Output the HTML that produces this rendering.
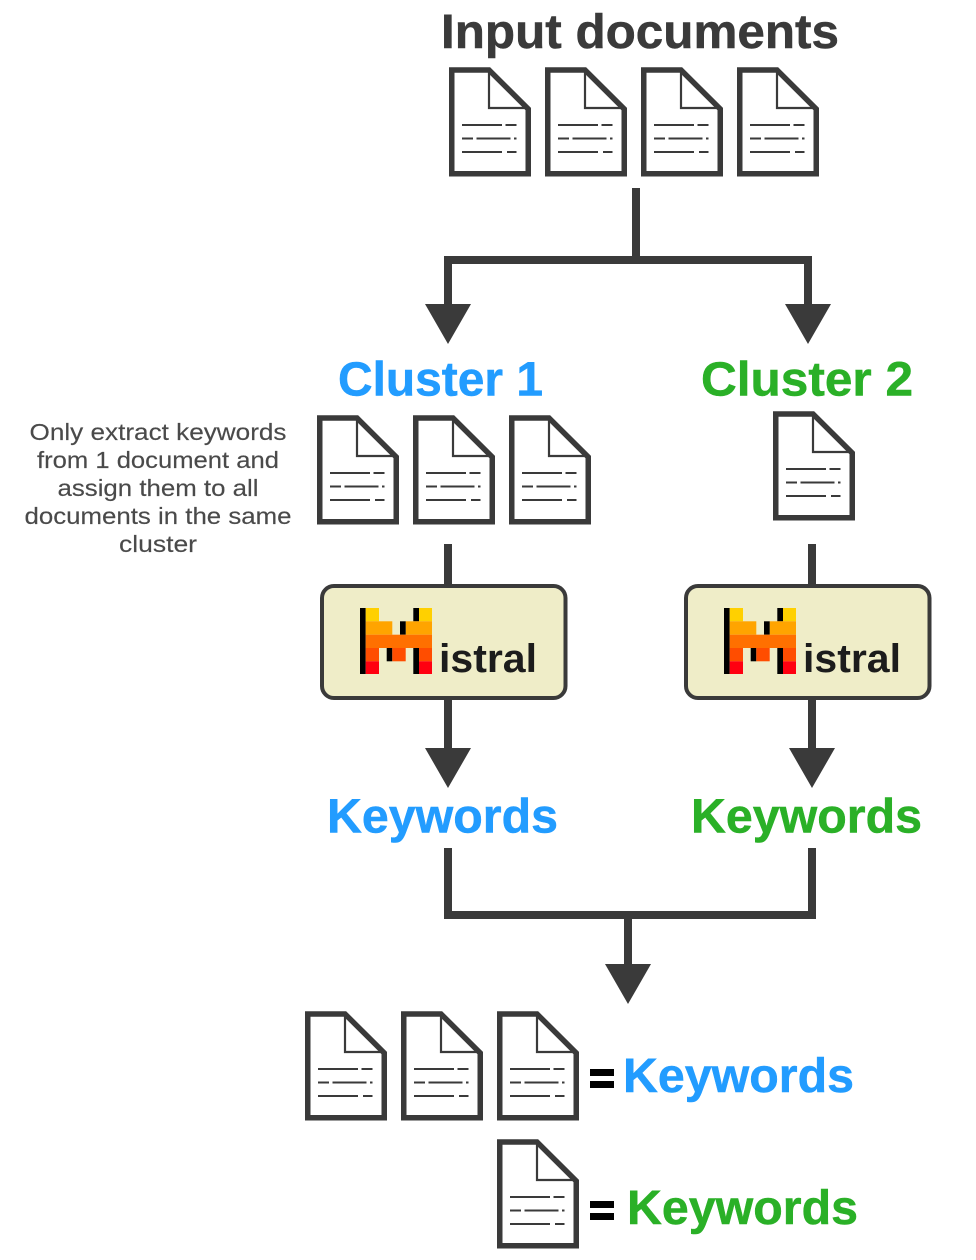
<!DOCTYPE html>
<html>
<head>
<meta charset="utf-8">
<style>
html,body{margin:0;padding:0;background:#fff;width:976px;height:1260px;overflow:hidden}
svg{display:block}
text{font-family:"Liberation Sans",sans-serif}
.b{font-weight:700;font-size:48px;stroke-width:.5px}
.blue{fill:#229CFF;stroke:#229CFF}
.green{fill:#2AB027;stroke:#2AB027}
.dark{fill:#3a3a3a;stroke:#3a3a3a}
.note{font-size:23.500px;fill:#4a4a4a;stroke:#4a4a4a;stroke-width:.15px}
</style>
</head>
<body>
<svg width="976" height="1260" viewBox="0 0 976 1260" xmlns="http://www.w3.org/2000/svg">
<defs>
<g id="doc">
  <path d="M2.750 3H40L79.250 42V106.800H2.750Z" fill="#fff" stroke="#3a3a3a" stroke-width="5.500" stroke-linejoin="miter"/>
  <path d="M40 3V41H79" fill="none" stroke="#3a3a3a" stroke-width="2.200"/>
  <path d="M13 58H53M56.500 58H67.500M13 71.500H24M27.500 71.500H61.500M65 71.500H67.500M13 85H53M58 85H67.500" fill="none" stroke="#3a3a3a" stroke-width="2"/>
</g>
<g id="box">
  <rect x="322" y="586" width="243.500" height="112" rx="12" fill="#EFEDC8" stroke="#3a3a3a" stroke-width="4"/>
  <rect x="360" y="608" width="5.700" height="66" fill="#000"/>
  <rect x="365.700" y="608" width="13.300" height="13.300" fill="#FFD000"/>
  <rect x="419" y="608" width="13" height="13.300" fill="#FFD000"/>
  <rect x="413.300" y="608" width="5.700" height="13.300" fill="#000"/>
  <rect x="365.700" y="621.300" width="26.600" height="13.400" fill="#FFA400"/>
  <rect x="405.700" y="621.300" width="26.300" height="13.400" fill="#FFA400"/>
  <rect x="400" y="621.300" width="5.700" height="13.400" fill="#000"/>
  <rect x="365.700" y="634.700" width="66.300" height="13.300" fill="#FF7000"/>
  <rect x="365.700" y="648" width="13.300" height="13.300" fill="#FF4D00"/>
  <rect x="386.700" y="648" width="5.600" height="13.300" fill="#000"/>
  <rect x="392.300" y="648" width="13.400" height="13.300" fill="#FF4D00"/>
  <rect x="413.300" y="648" width="5.700" height="26" fill="#000"/>
  <rect x="419" y="648" width="13" height="13.300" fill="#FF4D00"/>
  <rect x="365.700" y="661.300" width="13.300" height="12.700" fill="#FF0010"/>
  <rect x="419" y="661.300" width="13" height="12.700" fill="#FF0010"/>
  <text x="439" y="672" font-size="40" font-weight="700" fill="#1c1c1c" textLength="98" lengthAdjust="spacingAndGlyphs">istral</text>
</g>
</defs>

<text class="b dark" x="441" y="48" textLength="398" lengthAdjust="spacingAndGlyphs">Input documents</text>

<use href="#doc" x="449" y="67"/>
<use href="#doc" x="545" y="67"/>
<use href="#doc" x="641" y="67"/>
<use href="#doc" x="737" y="67"/>

<path d="M636 188V260M448 306V260H808V306" fill="none" stroke="#3a3a3a" stroke-width="8"/>
<path d="M425 304H471L448 344ZM785 304H831L808 344Z" fill="#3a3a3a"/>

<text class="b blue" x="338" y="395.500" textLength="205" lengthAdjust="spacingAndGlyphs">Cluster 1</text>
<text class="b green" x="701" y="395.500" textLength="212" lengthAdjust="spacingAndGlyphs">Cluster 2</text>

<use href="#doc" x="317" y="415"/>
<use href="#doc" x="413" y="415"/>
<use href="#doc" x="509" y="415"/>
<use href="#doc" x="773" y="411"/>

<text class="note" x="158" y="440" text-anchor="middle" textLength="257" lengthAdjust="spacingAndGlyphs">Only extract keywords</text>
<text class="note" x="158" y="468" text-anchor="middle" textLength="242" lengthAdjust="spacingAndGlyphs">from 1 document and</text>
<text class="note" x="158" y="496" text-anchor="middle" textLength="201" lengthAdjust="spacingAndGlyphs">assign them to all</text>
<text class="note" x="158" y="524" text-anchor="middle" textLength="267" lengthAdjust="spacingAndGlyphs">documents in the same</text>
<text class="note" x="158" y="552" text-anchor="middle" textLength="78" lengthAdjust="spacingAndGlyphs">cluster</text>

<path d="M448 544V586M812 544V586M448 698V750M812 698V750" fill="none" stroke="#3a3a3a" stroke-width="8"/>
<use href="#box"/>
<use href="#box" x="364"/>
<path d="M425 748H471L448 788ZM789 748H835L812 788Z" fill="#3a3a3a"/>

<text class="b blue" x="327" y="832.500" textLength="231" lengthAdjust="spacingAndGlyphs">Keywords</text>
<text class="b green" x="691" y="832.500" textLength="231" lengthAdjust="spacingAndGlyphs">Keywords</text>

<path d="M448 848V915H812V848M628 915V966" fill="none" stroke="#3a3a3a" stroke-width="8"/>
<path d="M605 964H651L628 1004Z" fill="#3a3a3a"/>

<use href="#doc" x="305" y="1011"/>
<use href="#doc" x="401" y="1011"/>
<use href="#doc" x="497" y="1011"/>
<use href="#doc" x="497" y="1139"/>

<rect x="590" y="1069" width="24" height="7" fill="#000"/>
<rect x="590" y="1081" width="24" height="7" fill="#000"/>
<text class="b blue" x="623" y="1092" textLength="231" lengthAdjust="spacingAndGlyphs">Keywords</text>

<rect x="590" y="1201" width="24" height="7" fill="#000"/>
<rect x="590" y="1213" width="24" height="7" fill="#000"/>
<text class="b green" x="627" y="1224" textLength="231" lengthAdjust="spacingAndGlyphs">Keywords</text>
</svg>
</body>
</html>
